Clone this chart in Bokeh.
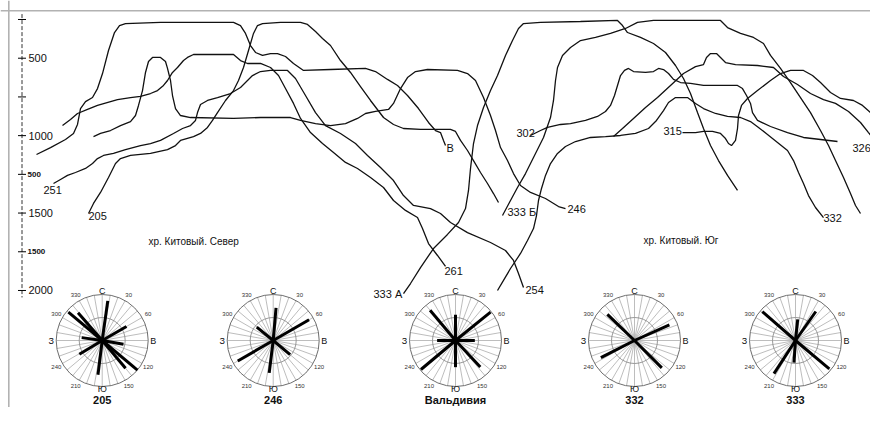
import numpy as np
from bokeh.plotting import figure
from bokeh.models import Range1d, Span
from bokeh.core.properties import value
from bokeh.embed import file_html
from bokeh.resources import INLINE

FONT = value("Liberation Sans")

# ---------------- profile data: distance along section (chart units) / depth (m)
prof_A_x = [36, 50, 65, 73, 77, 80, 85, 92, 97, 102, 108, 114, 119, 125, 160, 200, 233, 240, 245, 250, 255, 262, 270, 277, 285, 293, 303, 330, 365, 375, 387, 397, 407, 418, 428, 435, 440, 443, 445]
prof_A_d = [1122, 1077, 1025, 986, 928, 825, 780, 754, 696, 599, 450, 334, 289, 276, 269, 269, 269, 289, 340, 418, 463, 482, 470, 470, 489, 534, 579, 573, 566, 586, 637, 676, 741, 825, 915, 967, 980, 1031, 1064]

prof_205_x = [88, 93, 100, 108, 115, 120, 130, 150, 167, 175, 180, 193, 200, 207, 212, 217, 225, 233, 238, 243, 248, 253, 257, 262, 280, 300, 307, 315, 322, 330, 340, 350, 360, 370, 383, 393, 403, 420, 450, 455, 460, 467, 473, 480, 487, 493, 498]
prof_205_d = [1503, 1438, 1367, 1270, 1180, 1148, 1128, 1115, 1090, 1064, 1031, 1006, 986, 947, 902, 851, 773, 709, 644, 560, 450, 340, 289, 276, 269, 269, 282, 327, 373, 418, 515, 592, 683, 773, 883, 928, 954, 960, 960, 973, 1031, 1096, 1161, 1238, 1309, 1374, 1432]

prof_251_x = [53, 60, 67, 75, 85, 92, 97, 103, 113, 125, 140, 150, 160, 173, 182, 190, 195, 197, 200, 207, 217, 230, 240, 247, 252, 260, 270, 287, 295, 305, 315, 325, 340, 355, 367, 380, 393, 403, 413, 430, 440, 450, 467, 490, 505, 513, 518, 523]
prof_251_d = [1309, 1283, 1257, 1238, 1212, 1180, 1148, 1128, 1115, 1090, 1064, 1051, 1031, 986, 954, 935, 902, 851, 799, 773, 754, 728, 689, 644, 612, 586, 579, 579, 631, 741, 851, 935, 986, 1051, 1128, 1206, 1290, 1387, 1451, 1471, 1503, 1561, 1626, 1690, 1742, 1806, 1890, 1981]

prof_C_x = [62, 70, 77, 87, 97, 117, 130, 140, 150, 157, 163, 167, 172, 177, 183, 187, 193, 215, 233, 240, 247, 260, 270, 278, 285, 293, 300, 310, 322, 333, 345, 357, 370, 383, 393, 405, 417, 422, 428, 437, 445]
prof_C_d = [935, 896, 857, 831, 805, 767, 754, 747, 728, 709, 676, 644, 592, 560, 515, 495, 476, 476, 476, 515, 534, 534, 560, 612, 696, 792, 889, 980, 1051, 1109, 1173, 1212, 1270, 1335, 1419, 1483, 1529, 1600, 1697, 1774, 1845]

prof_246_x = [93, 100, 110, 120, 130, 135, 138, 142, 145, 148, 152, 160, 165, 167, 170, 172, 175, 180, 190, 233, 260, 290, 300, 315, 330, 345, 357, 365, 375, 388, 393, 400, 407, 415, 427, 457, 467, 475, 483, 490, 495, 500, 507, 513, 520, 530, 545, 558, 565]
prof_246_d = [1006, 986, 967, 935, 909, 870, 805, 709, 592, 521, 495, 495, 521, 566, 644, 741, 825, 870, 883, 889, 883, 883, 902, 922, 935, 922, 889, 857, 844, 831, 792, 696, 625, 586, 573, 579, 599, 644, 754, 870, 967, 1077, 1161, 1245, 1322, 1367, 1406, 1458, 1471]

prof_333A_x = [403, 410, 420, 433, 447, 458, 465, 468, 470, 473, 477, 483, 490, 497, 505, 512, 518, 523, 540, 580, 617, 622, 627, 640, 653, 665, 675, 683, 690, 697, 703, 710, 718, 727, 737]
prof_333A_d = [2020, 1955, 1852, 1729, 1638, 1561, 1471, 1354, 1212, 1051, 935, 818, 709, 612, 482, 386, 308, 276, 269, 263, 256, 289, 334, 366, 405, 463, 547, 631, 728, 851, 954, 1064, 1161, 1257, 1354]

prof_333B_x = [502, 510, 517, 525, 533, 543, 550, 553, 555, 557, 562, 570, 580, 595, 610, 625, 637, 653, 700, 720, 727, 740, 753, 763, 770, 780, 790, 800, 810, 820, 828, 835, 843, 850, 855, 860]
prof_333B_d = [1516, 1419, 1335, 1245, 1141, 1012, 883, 773, 644, 560, 482, 431, 386, 366, 340, 308, 269, 256, 256, 256, 302, 340, 366, 405, 482, 566, 657, 754, 851, 967, 1064, 1161, 1270, 1374, 1451, 1503]

prof_302_x = [530, 540, 547, 560, 570, 585, 597, 605, 610, 614, 617, 620, 624, 628, 633, 645, 653, 658, 663, 668, 673, 680, 690, 703, 737, 742, 746, 750, 752, 757, 770, 787, 803, 820, 837]
prof_302_d = [999, 967, 947, 928, 922, 902, 876, 844, 805, 741, 676, 612, 579, 566, 586, 592, 586, 566, 573, 599, 637, 657, 663, 676, 676, 696, 741, 792, 851, 902, 941, 980, 1012, 1025, 1038]

prof_315_x = [682, 695, 703, 712, 720, 725, 728, 731, 735, 737, 738, 741, 747, 757, 770, 780, 790, 803, 812, 820, 830, 840, 853, 862, 870, 878, 886]
prof_315_d = [980, 980, 973, 973, 986, 1019, 1051, 1064, 1031, 954, 870, 805, 760, 709, 644, 599, 579, 579, 612, 657, 721, 760, 773, 805, 851, 902, 954]

prof_326_x = [613, 622, 633, 645, 657, 670, 683, 695, 703, 706, 710, 716, 720, 725, 735, 757, 773, 783, 797, 810, 823, 835, 848, 860, 868, 872]
prof_326_d = [1006, 954, 889, 818, 754, 676, 599, 554, 541, 495, 470, 470, 495, 528, 541, 547, 560, 618, 670, 728, 767, 792, 844, 915, 980, 1012]

prof_332_x = [497, 503, 510, 520, 527, 533, 536, 538, 541, 545, 550, 557, 565, 575, 590, 605, 620, 635, 648, 656, 663, 668, 675, 687, 695, 703, 715, 727, 740, 750, 758, 767, 777, 787, 793, 798, 803, 808, 815, 823]
prof_332_d = [2000, 1935, 1858, 1761, 1677, 1600, 1516, 1419, 1341, 1257, 1180, 1115, 1070, 1038, 1012, 1006, 999, 986, 954, 902, 838, 786, 754, 754, 792, 825, 857, 876, 883, 909, 947, 993, 1044, 1096, 1161, 1238, 1309, 1387, 1464, 1529]

profiles_x = [prof_A_x, prof_205_x, prof_251_x, prof_C_x, prof_246_x, prof_333A_x,
              prof_333B_x, prof_302_x, prof_315_x, prof_326_x, prof_332_x]
profiles_d = [prof_A_d, prof_205_d, prof_251_d, prof_C_d, prof_246_d, prof_333A_d,
              prof_333B_d, prof_302_d, prof_315_d, prof_326_d, prof_332_d]

# station labels (left x, depth)
station_text = ["251", "205", "В", "261", "254", "333 А", "333 Б", "246", "302", "315", "326", "332"]
station_x = [43, 88, 446, 444, 525, 373, 507, 567, 516, 663, 852, 823]
station_d = [1354, 1522, 1077, 1877, 1994, 2020, 1490, 1477, 980, 973, 1083, 1535]

section_text = ["хр. Китовый. Север", "хр. Китовый. Юг"]
section_x = [148, 643]
section_d = [1684, 1677]

# depth scale
depth_ticks = [250, 500, 750, 1000, 1250, 1500, 1750, 2000]
depth_labels = ["", "500", "", "1000", "", "1500", "", "2000"]
depth_small_labels = ["", "", "", "", "500", "", "1500", ""]

# rose diagrams: azimuth (deg) and relative length
rose_names = ["205", "246", "Вальдивия", "332", "333"]
rose_az = [
    [8, 60, 100, 130, 140, 187, 239, 278, 310, 319],
    [5, 60, 130, 187, 240, 309],
    [0, 51, 90, 137, 180, 230, 270, 320],
    [66, 135, 243, 314],
    [6, 35, 130, 184, 213, 311],
]
rose_len = [
    [0.87, 0.61, 0.47, 1.0, 0.79, 0.75, 0.58, 0.45, 0.96, 0.80],
    [0.71, 0.90, 0.48, 0.71, 0.89, 0.46],
    [0.56, 0.98, 0.42, 0.79, 0.58, 0.98, 0.40, 0.86],
    [0.83, 0.84, 0.82, 0.82],
    [0.46, 0.77, 0.96, 0.48, 0.86, 0.955],
]
rose_deg_labels = [30, 60, 120, 150, 210, 240, 300, 330]
rose_cardinals = ["С", "В", "Ю", "З"]

# ---------------- layout
rose_cx = [101.7, 272.7, 455, 634, 795]
R = 46.0

p = figure(width=870, height=407, x_range=Range1d(0, 870), y_range=Range1d(2755.7, 127.3),
           output_backend="svg", toolbar_location=None,
           min_border_left=0, min_border_right=0, min_border_top=0, min_border_bottom=0,
           x_axis_type=None, y_axis_type=None)
p.extra_y_ranges = {"rose": Range1d(-67, 340)}
p.outline_line_color = None
p.background_fill_color = "white"
p.border_fill_color = "white"

p.add_layout(Span(location=8.3, dimension="height", line_color="#b2b2b2", line_width=1.6))
p.add_layout(Span(location=193.8, dimension="width", line_color="#b2b2b2", line_width=1.6))

# depth axis (dashed line, cross ticks, labels)
p.line(x=[21.5, 21.5], y=[215, 2045], line_color="#333333", line_width=1, line_dash="4 2")
p.segment(x0=[17.5] * len(depth_ticks), x1=[25.5] * len(depth_ticks), y0=depth_ticks, y1=depth_ticks,
          line_color="black", line_width=1)
p.text(x=[28] * len(depth_ticks), y=depth_ticks, text=depth_labels, text_font=FONT,
       text_font_size="11px", text_baseline="middle", text_align="left", text_color="#111111")
p.text(x=[27] * len(depth_ticks), y=depth_ticks, text=depth_small_labels, text_font=FONT,
       text_font_size="8px", text_font_style="bold", text_baseline="middle", text_align="left",
       text_color="#111111")

# profiles
p.multi_line(xs=profiles_x, ys=profiles_d, line_color="#111111", line_width=1.3)

p.text(x=station_x, y=station_d, text=station_text, text_font=FONT, text_font_size="11px",
       text_baseline="middle", text_align="left", text_color="#111111")
p.text(x=section_x, y=section_d, text=section_text, text_font=FONT, text_font_size="10px",
       text_baseline="middle", text_align="left", text_color="#111111")

# roses
spoke_ang = np.deg2rad(np.arange(0, 360, 10))
sx0, sy0, sx1, sy1 = [], [], [], []
for cx in rose_cx:
    for a in spoke_ang:
        sx0.append(cx); sy0.append(0.0)
        sx1.append(cx + R * np.sin(a)); sy1.append(R * np.cos(a))
p.segment(x0=sx0, y0=sy0, x1=sx1, y1=sy1, line_color="#a0a0a0", line_width=0.7, y_range_name="rose")
p.circle(x=rose_cx, y=[0] * 5, radius=R / 2, fill_color=None, line_color="#8c8c8c",
         line_width=0.9, y_range_name="rose")
p.circle(x=rose_cx, y=[0] * 5, radius=R, fill_color=None, line_color="#6e6e6e",
         line_width=1.0, y_range_name="rose")

rx0, ry0, rx1, ry1 = [], [], [], []
for cx, azs, lens in zip(rose_cx, rose_az, rose_len):
    for az, ln in zip(azs, lens):
        a = np.deg2rad(az)
        rx0.append(cx); ry0.append(0.0)
        rx1.append(cx + R * ln * np.sin(a)); ry1.append(R * ln * np.cos(a))
p.segment(x0=rx0, y0=ry0, x1=rx1, y1=ry1, line_color="black", line_width=3, y_range_name="rose")

cx_l, cy_l, ct = [], [], []
dx_l, dy_l, dt = [], [], []
for cx in rose_cx:
    for ang, lab, off in zip([0, 90, 180, 270], rose_cardinals, [50, 51, 48, 51]):
        a = np.deg2rad(ang)
        cx_l.append(cx + off * np.sin(a)); cy_l.append(off * np.cos(a)); ct.append(lab)
    for dg in rose_deg_labels:
        a = np.deg2rad(dg)
        dx_l.append(cx + 53 * np.sin(a)); dy_l.append(53 * np.cos(a)); dt.append(str(dg))
p.text(x=cx_l, y=cy_l, text=ct, text_font=FONT, text_font_size="9px", text_align="center",
       text_baseline="middle", text_color="#111111", y_range_name="rose")
p.text(x=dx_l, y=dy_l, text=dt, text_font=FONT, text_font_size="6px", text_align="center",
       text_baseline="middle", text_color="#333333", y_range_name="rose")
p.text(x=rose_cx, y=[-59.5] * 5, text=rose_names, text_font=FONT, text_font_size="11px",
       text_font_style="bold", text_align="center", text_baseline="middle",
       text_color="#111111", y_range_name="rose")

open("out.html", "w").write(file_html(p, INLINE))
